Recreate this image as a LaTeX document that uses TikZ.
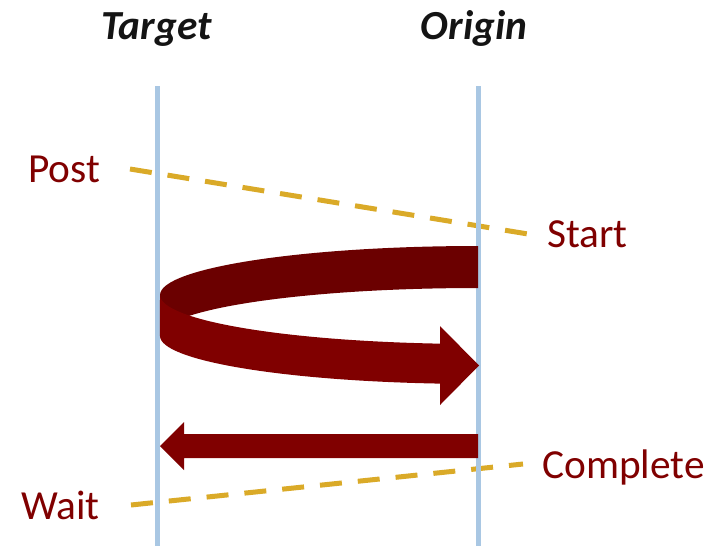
\documentclass[tikz,border=0pt]{standalone}
\usepackage{fontspec}
\setmainfont{Carlito}
\definecolor{lifeblue}{RGB}{169,199,227}
\definecolor{dashgold}{RGB}{218,170,40}
\definecolor{arrowred}{RGB}{128,0,0}
\definecolor{arrowdark}{RGB}{107,0,0}
\definecolor{labelred}{RGB}{128,0,0}
\definecolor{titleblack}{RGB}{20,20,20}
\begin{document}
\begin{tikzpicture}[x=0.75pt,y=-0.75pt,
  lifeline/.style={draw=lifeblue,line width=3.75pt},
  phaseline/.style={draw=dashgold,line width=3.75pt,dash pattern=on 16.5pt off 12pt},
  titletext/.style={inner sep=0pt,anchor=base,text=titleblack,font=\fontsize{31}{36}\selectfont\bfseries\itshape},
  labeltext/.style={inner sep=0pt,anchor=base west,text=labelred,font=\fontsize{31}{36}\selectfont}]
\useasboundingbox (0,0) rectangle (723,546);
% titles
\node[titletext] (target) at (156.5,39.5) {Target};
\node[titletext] (origin) at (474,39.5) {Origin};
% labels
\node[labeltext] (post) at (28,182) {Post};
\node[labeltext] (start) at (547,247) {Start};
\node[labeltext] (complete) at (542,478) {Complete};
\node[labeltext] (wait) at (21,519) {Wait};
% dashed phase lines
\coordinate (postA) at (130,169);
\coordinate (postB) at (528,234);
\coordinate (waitA) at (131,505);
\coordinate (waitB) at (523,464);
\draw[phaseline] (postA) -- (postB);
\draw[phaseline] (waitA) -- (waitB);
% lifelines
\coordinate (ttop) at (157.5,86);
\coordinate (tbot) at (157.5,546);
\coordinate (otop) at (478,86);
\coordinate (obot) at (478,546);
\draw[lifeline] (ttop) -- (tbot);
\draw[lifeline] (otop) -- (obot);
% curved ribbon arrow: back part
\fill[arrowdark] (478,246) arc[start angle=90,end angle=180,x radius=238.5pt,y radius=36.75pt]
  -- (160,336) arc[start angle=180,end angle=90,x radius=238.5pt,y radius=36pt] -- cycle;
% front part with head
\fill[arrowred] (160,295) arc[start angle=180,end angle=263.14,x radius=238.5pt,y radius=36.75pt]
  -- (440,326) -- (479,365.5) -- (440,405) -- (440,383.6)
  arc[start angle=263.14,end angle=180,x radius=238.5pt,y radius=36pt] -- cycle;
% straight return arrow
\fill[arrowred] (478,434) -- (184,434) -- (184,422) -- (160,446) -- (184,470) -- (184,458) -- (478,458) -- cycle;
\end{tikzpicture}
\end{document}
